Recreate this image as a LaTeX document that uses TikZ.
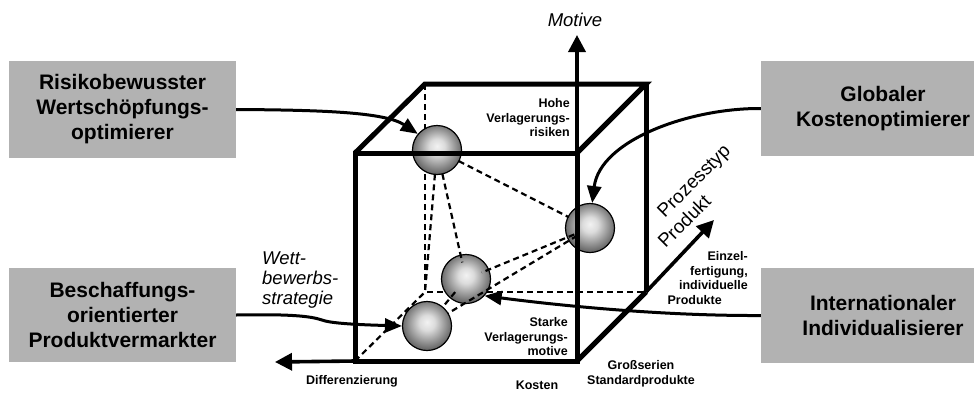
\documentclass[tikz,border=0pt]{standalone}
\usepackage{fontspec}
\setmainfont{Liberation Sans}
\usetikzlibrary{arrows.meta,calc}
\pgfdeclareradialshading{sphereshade}{\pgfpoint{0bp}{4bp}}{color(0bp)=(black!5); color(8bp)=(black!14); color(25bp)=(black!58); color(50bp)=(black!58)}
\begin{document}
\begin{tikzpicture}[x=1pt,y=-1pt,
  box/.style={fill=black!30, inner sep=0pt, align=center, font=\bfseries\fontsize{21}{25}\selectfont},
  ballnode/.style={circle, minimum size=49pt, inner sep=0pt, draw=black, line width=1.2pt, shading=sphereshade},
  cubeedge/.style={line width=5pt, line join=miter},
  hiddenedge/.style={line width=2.2pt, dash pattern=on 6pt off 4pt},
  axisline/.style={line width=3.6pt, -{Triangle[length=17pt,width=17pt]}},
  conn/.style={line width=3pt, -{Triangle[length=17pt,width=14pt]}},
  smalllab/.style={inner sep=0pt, font=\bfseries\fontsize{12.5}{14.5}\selectfont},
  italab/.style={inner sep=0pt, font=\itshape\fontsize{18.5}{20}\selectfont},
  rotlab/.style={inner sep=0pt, font=\fontsize{19}{22}\selectfont, rotate=45}
]
\useasboundingbox (0,0) rectangle (974,394);
\clip (0,0) rectangle (974,394);

% cube corners
\coordinate (fbl) at (355,361);
\coordinate (fbr) at (577,361);
\coordinate (ftl) at (355,153);
\coordinate (ftr) at (577,153);
\coordinate (bbl) at (425,292);
\coordinate (bbr) at (646,292);
\coordinate (btl) at (425,84);
\coordinate (btr) at (646,84);

% hidden edges
\draw[hiddenedge] (btl) -- (bbl) -- (bbr);
\draw[hiddenedge] (fbl) -- (bbl);

% spheres
\node[ballnode] (S1) at (437,150) {};
\node[ballnode] (S2) at (590,228) {};
\node[ballnode] (S3) at (466,279) {};
\node[ballnode] (S4) at (427,326) {};

% pyramid lines
\draw[hiddenedge] ($(S1)!24.5pt!(bbl)$) -- (bbl);
\draw[hiddenedge] ($(S1)!24.5pt!(S3)$) -- ($(S3)!17pt!(S1)$);
\draw[hiddenedge] ($(S1)!24.5pt!(S2)$) -- ($(S2)!24pt!(S1)$);
\draw[hiddenedge] ($(S2)!17pt!(S3)$) -- ($(S3)!17pt!(S2)$);
\draw[hiddenedge] ($(S2)!15pt!(S4)$) -- ($(S4)!24.5pt!(S2)$);
\draw[hiddenedge] ($(S3)!17pt!(S4)$) -- ($(S4)!24.5pt!(S3)$);

% visible edges
\draw[cubeedge] (ftl) -- (btl) -- (btr) -- (ftr);
\draw[cubeedge] (btr) -- (bbr);
\draw[cubeedge] (ftl) rectangle (fbr);
\draw[cubeedge] (fbr) -- (bbr);

% axes
\coordinate (motivetip) at (577,35);
\coordinate (difftip) at (275,362);
\coordinate (prodtip) at (714,220);
\draw[axisline] (ftr) -- (motivetip);
\draw[axisline] (fbl) -- (difftip);
\draw[axisline] (bbr) -- (prodtip);

% boxes
\node[box, minimum width=227pt, minimum height=97pt] (tl) at (122.5,109.5) {Risikobewusster\\Wertschöpfungs-\\optimierer};
\node[box, minimum width=227pt, minimum height=94pt] (bl) at (122.5,315) {Beschaffungs-\\orientierter\\Produktvermarkter};
\node[box, minimum width=244pt, minimum height=95pt] (tr) at (883,108.5) {Globaler\\Kostenoptimierer};
\node[box, minimum width=244pt, minimum height=95pt] (br) at (883,315.5) {Internationaler\\Individualisierer};

% connectors
\draw[conn] (tl.east) .. controls (320,110) and (385,112) .. (S1.140);
\draw[conn] (tr.west) .. controls (690,108) and (600,140) .. (S2.85);
\draw[conn] (bl.east) .. controls (290,314) and (310,316) .. (322,320) .. controls (332,324) and (370,325) .. (S4.west);
\draw[conn] (br.west) .. controls (650,316) and (540,303) .. (S3.-42);

% labels
\node[italab] (motive) at (575,20) {Motive};
\node[italab, anchor=west, align=left] (wett) at (262,280) {Wett-\\bewerbs-\\strategie};
\node[rotlab, align=left] (proz) at (694,196) {\hspace*{21pt}Prozesstyp\\Produkt};
\node[smalllab, anchor=east, align=right] (hohe) at (570,118) {Hohe\\Verlagerungs-\\risiken};
\node[smalllab, anchor=east, align=right] (starke) at (568,337) {Starke\\Verlagerungs-\\motive};
\node[smalllab, anchor=east, align=right] (einzel) at (748,278) {Einzel-\\fertigung,\\individuelle\\Produkte\makebox[26pt]{}};
\node[smalllab, align=center] (gross) at (641,374) {Großserien\\Standardprodukte};
\node[smalllab] (kosten) at (537,385) {Kosten};
\node[smalllab] (diff) at (352,381) {Differenzierung};
\end{tikzpicture}
\end{document}
